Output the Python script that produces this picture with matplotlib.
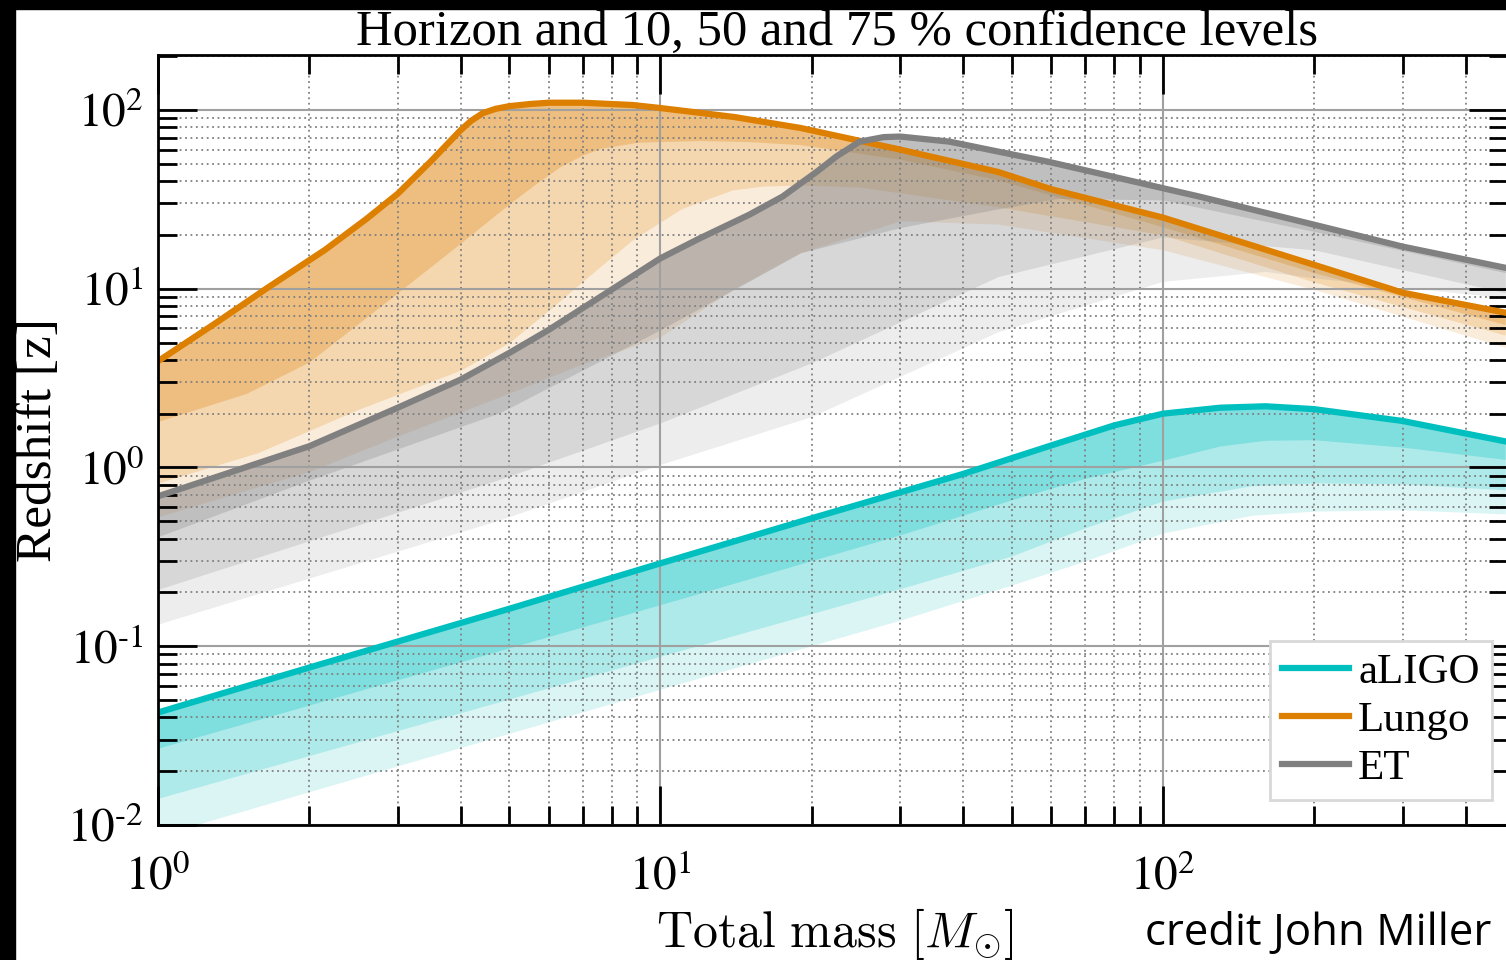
import numpy as np
import matplotlib
matplotlib.use("Agg")
import matplotlib.pyplot as plt
from matplotlib.patches import Rectangle

plt.rcParams['font.family'] = ['Liberation Serif', 'DejaVu Serif']
plt.rcParams['mathtext.fontset'] = 'stix'

# ---- data (total mass [Msun] -> redshift) ----
# aLIGO
ligo_m = [1, 2, 5, 10, 20, 40, 60, 80, 100, 130, 160, 200, 300, 480]
ligo_h = [0.0426, 0.076, 0.162, 0.291, 0.52, 0.92, 1.33, 1.72, 2.0, 2.16, 2.2, 2.12, 1.82, 1.40]
ligo_c1_m = [1, 10, 30, 50, 70, 100, 130, 160, 200, 300, 480]
ligo_c1 = [0.0269, 0.171, 0.42, 0.66, 0.87, 1.1, 1.32, 1.42, 1.43, 1.30, 1.11]
ligo_c2_m = [1, 10, 30, 50, 70, 100, 150, 200, 300, 480]
ligo_c2 = [0.0141, 0.088, 0.21, 0.32, 0.46, 0.65, 0.79, 0.82, 0.81, 0.75]
ligo_c3_m = [1, 10, 30, 50, 70, 100, 150, 200, 300, 480]
ligo_c3 = [0.0087, 0.0575, 0.14, 0.22, 0.3, 0.43, 0.54, 0.57, 0.58, 0.55]

# Lungo
lungo_m = [1, 1.3, 1.65, 2.15, 2.6, 3, 3.5, 4, 4.2, 4.43, 4.7, 5, 5.5, 6, 7, 8.8, 10, 14, 19, 30, 47, 60, 100, 200, 300, 480]
lungo_h = [3.93, 6.4, 10.1, 16.5, 24.6, 34, 52, 77, 87, 96, 101.5, 105, 108, 109.8, 109.8, 106.6, 102.5, 91.4, 79.3, 60, 45, 36, 25, 13.6, 9.5, 7.35]
lungo_c1_m = [1, 1.5, 2, 3, 4, 5, 5.6, 6.3, 7, 7.6, 9, 12, 15, 19, 30, 47, 100, 200, 480]
lungo_c1 = [1.81, 2.6, 3.9, 9.5, 18, 29.8, 38, 48, 56, 61, 66, 67.5, 66.5, 64, 53, 40.6, 22.2, 12.3, 6.3]
lungo_c2_m = [1, 1.58, 2.5, 4, 5, 6, 7, 8.8, 11, 13.9, 16, 19, 25, 47, 100, 200, 480]
lungo_c2 = [0.82, 1.21, 2.11, 3.5, 5.0, 7.6, 11, 18.8, 28, 35.7, 37.5, 38, 37, 28.7, 20, 10.9, 5.5]
lungo_c3_m = [1, 2, 3, 4.8, 7, 10, 14, 19, 30, 47, 100, 200, 480]
lungo_c3 = [0.53, 0.95, 1.5, 2.49, 3.8, 5.4, 10, 15.9, 24, 23, 16.5, 9.9, 4.7]

# ET
et_m = [1, 2, 3, 4, 5, 6, 8, 10, 12, 15, 17.5, 20.5, 22.4, 24.9, 27.8, 30, 37.6, 47, 59, 100, 118, 200, 300, 480]
et_h = [0.69, 1.315, 2.16, 3.1, 4.37, 5.9, 9.9, 14.8, 19.2, 25.9, 32.8, 45.3, 55, 66.5, 70.5, 71, 66.5, 58.5, 51.4, 36.5, 32.8, 22.8, 17.2, 13.1]
et_c1_m = [1, 2, 4.8, 10, 15, 19, 30, 47, 62, 100, 200, 480]
et_c1 = [0.41, 0.85, 2.03, 5.9, 11, 15.9, 22, 28, 32, 31.4, 20.9, 12.3]
et_c2_m = [1, 4.8, 10, 20, 47, 100, 200, 480]
et_c2 = [0.208, 0.86, 1.78, 3.86, 11.7, 19.5, 16.5, 9.5]
et_c3_m = [1, 4.8, 10, 20, 47, 100, 160, 200, 480]
et_c3 = [0.133, 0.51, 1.04, 1.93, 5.75, 11, 12.5, 11.5, 8.9]

detectors = [
    ("aLIGO", "#00bfbf", ligo_m, ligo_h,
     [(ligo_c3_m, ligo_c3), (ligo_c2_m, ligo_c2), (ligo_c1_m, ligo_c1)]),
    ("Lungo", "#dd7f00", lungo_m, lungo_h,
     [(lungo_c3_m, lungo_c3), (lungo_c2_m, lungo_c2), (lungo_c1_m, lungo_c1)]),
    ("ET", "#808080", et_m, et_h,
     [(et_c3_m, et_c3), (et_c2_m, et_c2), (et_c1_m, et_c1)]),
]
alphas = [0.14, 0.2, 0.275]

fig = plt.figure(figsize=(15.06, 9.6), dpi=100)
ax = fig.add_axes([158 / 1506, 135 / 960, 1350 / 1506, 770 / 960])

for name, col, m, h, levels in detectors:
    lm_h = np.log10(m)
    for (cm, cz), a in zip(levels, alphas):
        # fill between the horizon and each confidence curve
        grid = np.union1d(m, cm)
        top = 10 ** np.interp(np.log10(grid), lm_h, np.log10(h))
        bot = 10 ** np.interp(np.log10(grid), np.log10(cm), np.log10(cz))
        ax.fill_between(grid, bot, top, color=col, alpha=a, lw=0)
    ax.plot(m, h, color=col, lw=4.5, label=name, solid_joinstyle='round')

ax.set_xscale('log')
ax.set_yscale('log')
ax.set_xlim(1, 486)
ax.set_ylim(0.01, 203)

ax.grid(True, which='major', color='#a0a0a0', ls='-', lw=1.5)
ax.grid(True, which='minor', color='#808080', ls=(0, (1, 2)), lw=1.3)
ax.tick_params(which='both', direction='in', top=True, right=True, colors='black',
               labelsize=34, width=2)
ax.tick_params(which='major', length=28)
ax.tick_params(which='minor', length=14)
ax.tick_params(axis='x', which='major', pad=22)
ax.tick_params(axis='y', which='major', pad=10)
ax.set_xticks([1, 10, 100])
ax.set_xticklabels([r'$10^{0}$', r'$10^{1}$', r'$10^{2}$'])
ax.set_yticks([0.01, 0.1, 1, 10, 100])
ax.set_yticklabels([r'$10^{\text{-}2}$', r'$10^{\text{-}1}$', r'$10^{0}$', r'$10^{1}$', r'$10^{2}$'])
for s in ax.spines.values():
    s.set_linewidth(2)
ax.spines['right'].set_visible(False)

# title placed by hand so its baseline sits just above the frame
fig.text(0.556, 1 - 46 / 960, 'Horizon and 10, 50 and 75 % confidence levels',
         fontsize=36.5, ha='center', va='baseline')
ax.set_ylabel('Redshift [z]', fontsize=37, labelpad=4)
fig.text(0.5545, 0.027, r'$\mathrm{Total\ mass}\ [M_{\odot}]$', fontsize=36,
         ha='center', va='center', math_fontfamily='cm')
fig.text(0.76, 0.027, 'credit John Miller', fontsize=31.5, family='Open Sans', va='center')

leg = ax.legend(loc='lower right', bbox_to_anchor=(0.988, 0.0325), borderaxespad=0,
                fontsize=31, handlelength=1.55, handletextpad=0.22, borderpad=0.28,
                labelspacing=0.2, fancybox=False, framealpha=1, edgecolor='#d8d8d8')
leg.get_frame().set_linewidth(2)

# black strips along the left and top edge
fig.patches.append(Rectangle((0, 0), 15 / 1506, 1, transform=fig.transFigure, color='black', zorder=10))
fig.patches.append(Rectangle((0, 1 - 9 / 960), 1, 9 / 960, transform=fig.transFigure, color='black', zorder=10))

fig.savefig('out.png', dpi=100)
